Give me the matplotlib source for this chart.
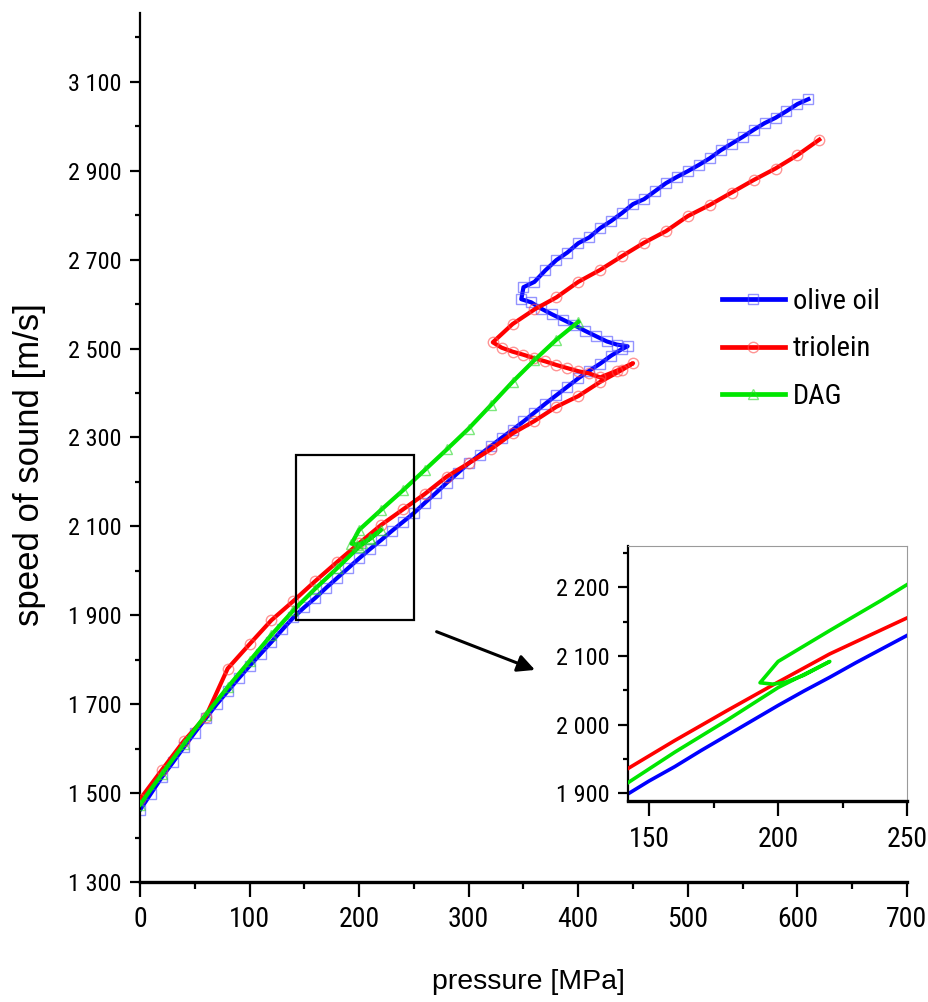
import matplotlib
matplotlib.use("Agg")
import matplotlib.pyplot as plt
from matplotlib.ticker import MultipleLocator, FixedLocator, FuncFormatter
from matplotlib.patches import Rectangle
from matplotlib import font_manager as fm

# ---- data: pressure [MPa] and speed of sound [m/s] ----
oil_p = [0, 10, 20, 30, 40, 50, 60, 70, 80, 90, 100, 110, 120, 130, 140, 150,
         160, 170, 180, 190, 200, 210, 220, 230, 240, 250, 260, 270, 280, 290,
         300, 310, 320, 330, 340, 350, 360, 370, 380, 390, 400, 410, 420, 430,
         440, 445,
         435, 426, 416, 406, 396, 386, 376, 366, 357, 348, 350,
         360, 370, 380, 390, 400, 410, 420, 430, 440, 450, 460, 470, 480, 490,
         500, 510, 520, 530, 540, 550, 560, 570, 580, 590, 600, 610]
oil_v = [1462, 1499, 1536, 1569, 1603, 1636, 1668, 1700, 1729, 1758, 1786, 1813,
         1840, 1868, 1895, 1918, 1939, 1962, 1984, 2006, 2028, 2049, 2069, 2090,
         2110, 2130, 2153, 2175, 2198, 2220, 2242, 2261, 2280, 2299, 2317, 2336,
         2356, 2376, 2395, 2414, 2433, 2450, 2466, 2484, 2499, 2505,
         2509, 2516, 2528, 2540, 2553, 2565, 2577, 2590, 2604, 2611, 2638,
         2650, 2676, 2699, 2716, 2737, 2750, 2771, 2787, 2805, 2825, 2836, 2854,
         2872, 2886, 2899, 2913, 2928, 2946, 2961, 2976, 2992, 3007, 3019, 3034,
         3050, 3061]

tri_p = [0, 20, 40, 60, 80, 100, 120, 140, 160, 180, 200, 220, 240, 260, 280,
         300, 320, 340, 360, 380, 400, 420, 440, 450,
         435, 420, 410, 400, 390, 380, 370, 360, 350, 340, 330, 322,
         340, 360, 380, 400, 420, 440, 460, 480, 500, 520, 540, 560, 580, 600, 620]
tri_v = [1486, 1552, 1617, 1672, 1780, 1835, 1889, 1932, 1977, 2020, 2062, 2103,
         2138, 2173, 2212, 2242, 2273, 2309, 2337, 2369, 2393, 2425, 2452, 2467,
         2450, 2435, 2444, 2449, 2456, 2463, 2471, 2478, 2486, 2493, 2502, 2514,
         2555, 2588, 2615, 2650, 2677, 2708, 2738, 2764, 2798, 2823, 2851, 2879,
         2905, 2935, 2970]

dag_p = [0, 20, 40, 60, 80, 100, 120, 140, 160, 180, 200, 210, 220,
         210, 203, 198, 193,
         200, 220, 240, 260, 280, 300, 320, 340, 360, 380, 400]
dag_v = [1474, 1543, 1610, 1676, 1738, 1797, 1856, 1911, 1960, 2006, 2054, 2073,
         2092,
         2072, 2062, 2059, 2061,
         2092, 2137, 2181, 2227, 2273, 2320, 2372, 2425, 2474, 2520, 2560]

series_labels = ["olive oil", "triolein", "DAG"]

# axis ticks
main_y_major = list(range(1300, 3101, 200))
main_y_minor = list(range(1400, 3201, 200))

# ---- fonts ----
available = {f.name for f in fm.fontManager.ttflist}
narrow = next((n for n in ["Liberation Sans Narrow", "Arial Narrow",
                           "Roboto Condensed", "Open Sans Condensed"]
               if n in available), "Liberation Sans")
regular = "Liberation Sans" if "Liberation Sans" in available else "DejaVu Sans"
plt.rcParams["font.family"] = [narrow, "DejaVu Sans"]


def thousands(v, pos):
    return f"{int(round(v)):,}".replace(",", " ")


fig = plt.figure(figsize=(9.29, 10.02), dpi=100)
ax = fig.add_axes([0.1507, 0.1198, 0.8256, 0.8673])

styles = [
    dict(color="#0000ff", marker="s", ms=6.5, mec=(0.3, 0.3, 1.0, 0.6), zorder=2),
    dict(color="#ff0000", marker="o", ms=7.5, mec=(1.0, 0.3, 0.3, 0.6), zorder=3),
    dict(color="#00e600", marker="^", ms=6.5, mec=(0.15, 0.85, 0.15, 0.6), zorder=4),
]
data = [(oil_p, oil_v), (tri_p, tri_v), (dag_p, dag_v)]

handles = []
for (p, v), st, lab in zip(data, styles, series_labels):
    h, = ax.plot(p, v, color=st["color"], lw=3.0, marker=st["marker"],
                 ms=st["ms"], mfc="none", mec=st["mec"], mew=1.0,
                 zorder=st["zorder"], label=lab, solid_joinstyle="round")
    handles.append(h)

ax.set_xlim(0, 700)
ax.set_ylim(1300, 3255)
ax.xaxis.set_major_locator(MultipleLocator(100))
ax.xaxis.set_minor_locator(MultipleLocator(50))
ax.yaxis.set_major_locator(FixedLocator(main_y_major))
ax.yaxis.set_minor_locator(FixedLocator(main_y_minor))
ax.yaxis.set_major_formatter(FuncFormatter(thousands))
for s in ("top", "right"):
    ax.spines[s].set_visible(False)
ax.spines["left"].set_linewidth(1.6)
ax.spines["bottom"].set_linewidth(2.4)
ax.tick_params(axis="y", which="major", length=7.2, width=1.6, pad=6,
               labelsize=17.5)
ax.tick_params(axis="y", which="minor", length=3.6, width=1.6)
ax.tick_params(axis="x", which="major", length=11, width=1.6, pad=6,
               labelsize=20)
ax.tick_params(axis="x", which="minor", length=5.2, width=1.6)

# zoom window marker and pointer
ax.add_patch(Rectangle((142, 1889), 108, 371, fill=False, ec="black",
                       lw=1.6, zorder=6))
ax.annotate("", xy=(360.5, 1777), xytext=(270.7, 1863),
            arrowprops=dict(arrowstyle="-|>", lw=2.2, color="black",
                            mutation_scale=26, shrinkA=0, shrinkB=0),
            zorder=6)

leg = ax.legend(handles=handles, loc="upper left",
                bbox_to_anchor=(722 / 929, 1 - 288 / 1002),
                bbox_transform=fig.transFigure, frameon=False,
                fontsize=20.5, handlelength=2.2, handletextpad=0.28,
                labelspacing=0.72, borderpad=0, borderaxespad=0)
for lh in leg.get_lines():
    lh.set_linewidth(3.4)

fig.text(30 / 929, 1 - 465 / 1002, "speed of sound [m/s]", rotation=90,
         ha="center", va="center", fontsize=25, family=[regular, "DejaVu Sans"])
fig.text(528 / 929, 1 - 982 / 1002, "pressure [MPa]", ha="center",
         va="center", fontsize=20.5, family=[regular, "DejaVu Sans"])

# inset: magnified view of the same curves
axi = fig.add_axes([0.6763, 0.2006, 0.3003, 0.2545])
for (p, v), st in zip(data, styles):
    axi.plot(p, v, color=st["color"], lw=2.6, zorder=st["zorder"],
             solid_joinstyle="round")
axi.set_xlim(142, 250)
axi.set_ylim(1889, 2260)
axi.xaxis.set_major_locator(MultipleLocator(50))
axi.xaxis.set_minor_locator(MultipleLocator(25))
axi.yaxis.set_major_locator(MultipleLocator(100))
axi.yaxis.set_minor_locator(MultipleLocator(50))
axi.yaxis.set_major_formatter(FuncFormatter(thousands))
for s in ("top", "right"):
    axi.spines[s].set_color("#9a9a9a")
    axi.spines[s].set_linewidth(0.8)
axi.spines["left"].set_linewidth(1.6)
axi.spines["bottom"].set_linewidth(2.4)
axi.tick_params(axis="y", which="major", length=7.2, width=1.6, pad=6,
                labelsize=17.5)
axi.tick_params(axis="y", which="minor", length=3.6, width=1.6)
axi.tick_params(axis="x", which="major", length=11, width=1.6, pad=7,
                labelsize=20)
axi.tick_params(axis="x", which="minor", length=5.2, width=1.6)

fig.savefig("out.png", dpi=100)
